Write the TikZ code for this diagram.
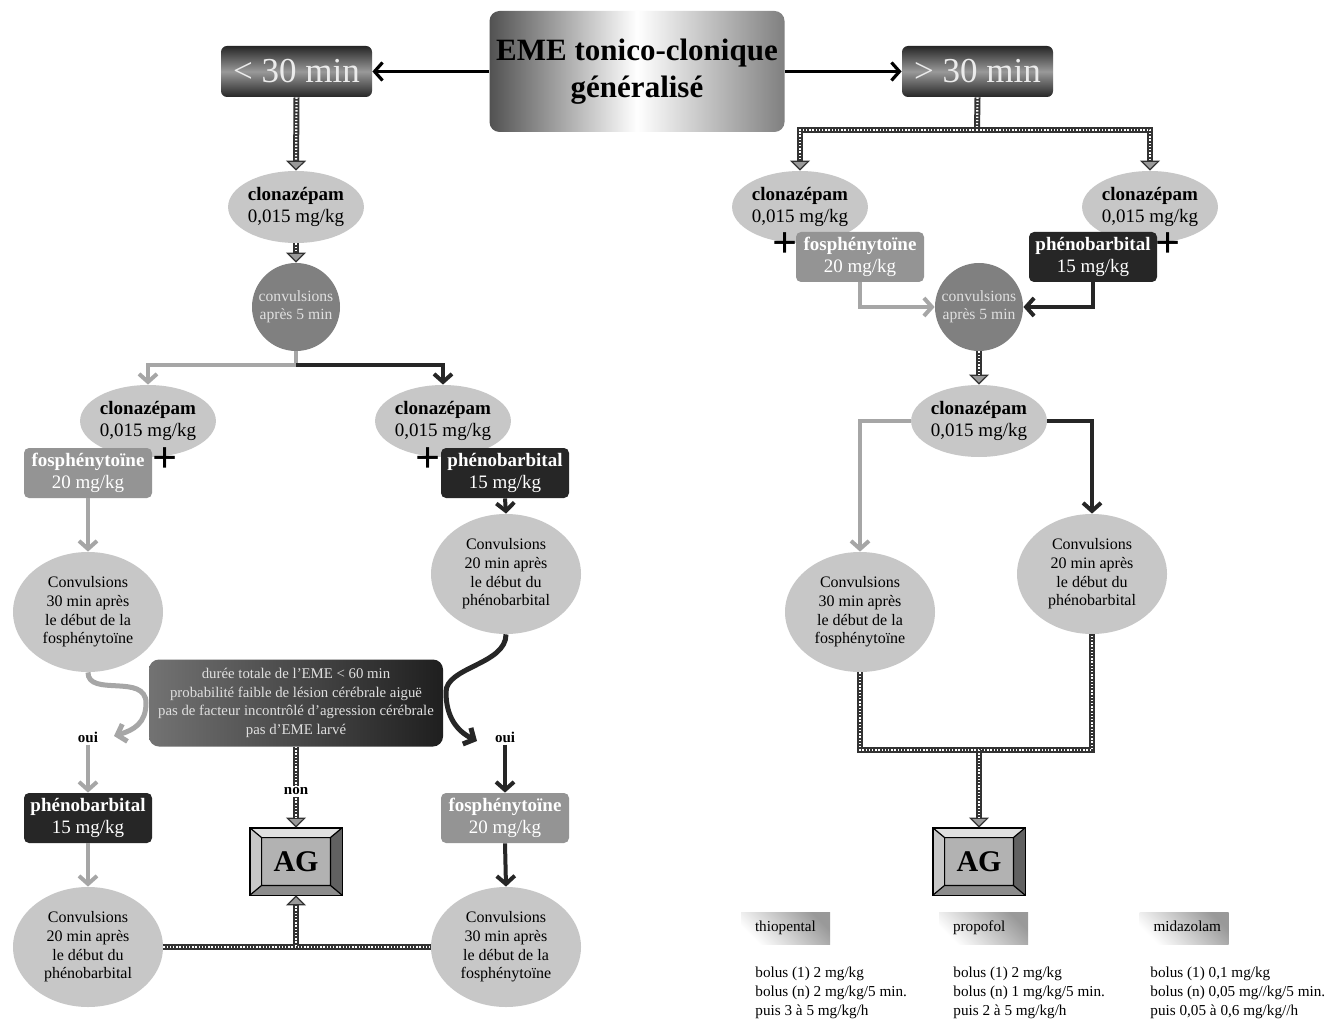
\documentclass[tikz,border=0pt]{standalone}
\usepackage{fontspec}
\setmainfont{Liberation Serif}
\usetikzlibrary{arrows.meta,shapes.geometric}

\newcommand{\txttitle}{\fontsize{15.5}{18.5}\selectfont\bfseries}
\newcommand{\txttime}{\fontsize{17.5}{20}\selectfont}
\newcommand{\txtdrug}{\fontsize{9.5}{11.2}\selectfont}
\newcommand{\txtconv}{\fontsize{8}{9.3}\selectfont}
\newcommand{\txtcirc}{\fontsize{7.8}{9}\selectfont}
\newcommand{\txtcrit}{\fontsize{7.4}{9.2}\selectfont}
\newcommand{\txtleg}{\fontsize{7.6}{9.5}\selectfont}
\newcommand{\txtyn}{\fontsize{7.5}{9}\selectfont\bfseries}
\newcommand{\txtag}{\fontsize{15}{15}\selectfont\bfseries}

% bevelled frame round an AG node
\newcommand{\agbevel}[1]{%
  \coordinate (#1nw) at ([shift={(6pt,-5pt)}]#1.north west);
  \coordinate (#1ne) at ([shift={(-6pt,-5pt)}]#1.north east);
  \coordinate (#1sw) at ([shift={(6pt,5pt)}]#1.south west);
  \coordinate (#1se) at ([shift={(-6pt,5pt)}]#1.south east);
  \fill[black!12] (#1.north west) -- (#1.north east) -- (#1ne) -- (#1nw) -- cycle;
  \fill[black!22] (#1.north west) -- (#1nw) -- (#1sw) -- (#1.south west) -- cycle;
  \fill[black!62] (#1.north east) -- (#1ne) -- (#1se) -- (#1.south east) -- cycle;
  \fill[black!45] (#1.south west) -- (#1sw) -- (#1se) -- (#1.south east) -- cycle;
  \draw[line width=.6pt] (#1nw) rectangle (#1se)
    (#1.north west) -- (#1nw) (#1.north east) -- (#1ne)
    (#1.south west) -- (#1sw) (#1.south east) -- (#1se);
  \draw[line width=.9pt] (#1.north west) rectangle (#1.south east);
}

\begin{document}
\begin{tikzpicture}[x=0.5pt,y=-0.5pt,
  cloz/.style={ellipse, fill=black!22, minimum width=63pt, minimum height=36pt, inner sep=0, align=center, font=\txtdrug},
  convbig/.style={ellipse, fill=black!22, minimum width=75pt, minimum height=60pt, inner sep=0, align=center, font=\txtconv},
  convsml/.style={circle, fill=black!50, minimum size=44pt, inner sep=0, align=center, text=black!12, font=\txtcirc},
  drugbox/.style={rectangle, rounded corners=2.5pt, minimum width=64pt, minimum height=25pt, inner sep=1pt, text=white, align=center, font=\txtdrug},
  fosbox/.style={drugbox, fill=black!42},
  phebox/.style={drugbox, fill=black!85},
  timebox/.style={rectangle, rounded corners=3pt, minimum width=75.5pt, minimum height=25.5pt, top color=black!85, bottom color=black!85, middle color=black!40, text=black!8, font=\txttime},
  plus/.style={inner sep=0, font=\fontsize{22}{22}\selectfont\bfseries},
  agbox/.style={rectangle, minimum width=46pt, minimum height=33.5pt, fill=black!30, font=\txtag},
  legbox/.style={rectangle, minimum height=16pt, text width=30.5pt, text height=5.5pt, text depth=1.6pt, align=left, inner xsep=7pt, top color=black!40, bottom color=white, shading angle=-45, font=\txtleg},
  legtxt/.style={anchor=north west, inner sep=0, align=left, font=\txtleg},
  yn/.style={inner sep=1pt, font=\txtyn},
  blkline/.style={draw=black, line width=1.6pt, -{Straight Barb[length=4pt,width=9pt]}},
  lgtline/.style={draw=black!35, line width=2pt, -{Straight Barb[length=4pt,width=9pt]}},
  drkline/.style={draw=black!85, line width=2pt, -{Straight Barb[length=4pt,width=9pt]}},
  hatch/.style={draw=black!80, line width=3pt, postaction={draw=white, -, line width=1.1pt, dash pattern=on 0.7pt off 0.9pt}},
  hatcharrow/.style={draw=black!80, line width=3pt, -{Triangle[length=5pt,width=10pt,fill=black!40,line width=0.6pt]},
    postaction={draw=white, -, shorten >=5pt, line width=1.1pt, dash pattern=on 0.7pt off 0.9pt}}]

\fill[white] (0,0) rectangle (1337,1021);
\useasboundingbox (0,0) rectangle (1337,1021);

% top
\node[rectangle, rounded corners=5pt, minimum width=147.5pt, minimum height=60.5pt, left color=black!68, right color=black!50, middle color=white, align=center, font=\txttitle] (eme) at (637,71.5) {EME tonico-clonique\\g\'en\'eralis\'e};
\node[timebox] (lt30) at (296.5,71.5) {< 30 min};
\node[timebox] (gt30) at (977.5,71.5) {> 30 min};
\draw[blkline] (eme.west) -- (lt30.east);
\draw[blkline] (eme.east) -- (gt30.west);

% left side: < 30 min
\node[cloz] (clo1) at (296,207) {\textbf{clonazépam}\\0,015 mg/kg};
\node[convsml] (conv1) at (296,307) {convulsions\\après 5 min};
\node[cloz] (clo2) at (148,421) {\textbf{clonazépam}\\0,015 mg/kg};
\node[cloz] (clo3) at (443,421) {\textbf{clonazépam}\\0,015 mg/kg};
\node[fosbox] (fos1) at (88,473) {\textbf{fosphénytoïne}\\20 mg/kg};
\node[phebox] (phe1) at (505,473) {\textbf{phénobarbital}\\15 mg/kg};
\node[plus] (plus1) at (165,460) {+};
\node[plus] (plus2) at (428,460) {+};
\node[convbig] (c30a) at (88,612) {Convulsions\\30 min après\\le début de la\\fosphénytoïne};
\node[convbig] (c20a) at (506,574) {Convulsions\\20 min après\\le début du\\phénobarbital};
\node[rectangle, rounded corners=5pt, minimum width=147pt, minimum height=43.5pt, inner sep=1pt, left color=black!55, right color=black!88, text=black!12, align=center, font=\txtcrit] (crit) at (296,703) {durée totale de l’EME < 60 min\\probabilité faible de lésion cérébrale aiguë\\pas de facteur incontrôlé d’agression cérébrale\\pas d’EME larvé};
\node[yn] (oui1) at (88,737) {oui};
\node[yn] (oui2) at (505,737) {oui};
\node[phebox] (phe2) at (88,818) {\textbf{phénobarbital}\\15 mg/kg};
\node[fosbox] (fos2) at (505,818) {\textbf{fosphénytoïne}\\20 mg/kg};
\node[agbox] (agL) at (296,861.5) {AG};
\agbevel{agL}
\node[convbig] (c20b) at (88,947) {Convulsions\\20 min après\\le début du\\phénobarbital};
\node[convbig] (c30b) at (506,947) {Convulsions\\30 min après\\le début de la\\fosphénytoïne};

\coordinate (br1) at (296,365);
\coordinate (t1) at (114,736);
\coordinate (t2) at (477,741);
\coordinate (jL) at (296,946);
\draw[hatcharrow] (lt30.south) -- (clo1.north);
\draw[hatcharrow] (clo1.south) -- (conv1.north);
\draw[lgtline] (conv1.south) -- (br1) -| (clo2.north);
\draw[drkline] (br1) -| (clo3.north);
\draw[lgtline] (fos1.south) -- (c30a.north);
\draw[drkline] (phe1.south) -- (c20a.north);
\draw[lgtline, line width=2.5pt] (c30a.south) .. controls +(0,25) and +(0,-30) .. (146,703) .. controls +(0,20) and +(20,-6) .. (t1);
\draw[drkline, line width=2.5pt] (c20a.south) .. controls +(0,30) and +(0,-25) .. (446,692) .. controls +(0,25) and +(-20,-10) .. (t2);
\draw[lgtline] (oui1.south) -- (phe2.north);
\draw[drkline] (oui2.south) -- (fos2.north);
\draw[lgtline] (phe2.south) -- (c20b.north);
\draw[drkline] (fos2.south) -- (c30b.north);
\draw[hatcharrow] (crit.south) -- node[pos=0.55, yn, fill=white] (non) {non} (agL.north);
\draw[hatch] (c20b.east) -- (c30b.west);
\draw[hatcharrow] (jL) -- (agL.south);

% right side: > 30 min
\node[cloz] (cloA) at (800,207) {\textbf{clonazépam}\\0,015 mg/kg};
\node[cloz] (cloB) at (1150,207) {\textbf{clonazépam}\\0,015 mg/kg};
\node[fosbox] (fosA) at (860,257) {\textbf{fosphénytoïne}\\20 mg/kg};
\node[phebox] (pheB) at (1093,257) {\textbf{phénobarbital}\\15 mg/kg};
\node[plus] (plusA) at (785,245) {+};
\node[plus] (plusB) at (1168,245) {+};
\node[convsml] (conv2) at (979,307) {convulsions\\après 5 min};
\node[cloz] (clo4) at (979,421) {\textbf{clonazépam}\\0,015 mg/kg};
\node[convbig] (c30c) at (860,612) {Convulsions\\30 min après\\le début de la\\fosphénytoïne};
\node[convbig] (c20c) at (1092,574) {Convulsions\\20 min après\\le début du\\phénobarbital};
\node[agbox] (agR) at (979,861.5) {AG};
\agbevel{agR}

\coordinate (brR) at (977,130);
\coordinate (jR) at (979,750);
\draw[hatch] (gt30.south) -- (brR);
\draw[hatcharrow] (brR) -| (cloA.north);
\draw[hatcharrow] (brR) -| (cloB.north);
\draw[lgtline] (fosA.south) |- (conv2.west);
\draw[drkline] (pheB.south) |- (conv2.east);
\draw[hatcharrow] (conv2.south) -- (clo4.north);
\draw[lgtline] (clo4.west) -| (c30c.north);
\draw[drkline] (clo4.east) -| (c20c.north);
\draw[hatch] (c30c.south) |- (jR) -| (c20c.south);
\draw[hatcharrow] (jR) -- (agR.north);

% legend
\node[legbox] (leg1) at (785.5,928) {thiopental};
\node[legbox] (leg2) at (983.5,928) {propofol};
\node[legbox] (leg3) at (1184,928) {midazolam};
\node[legtxt] (dose1) at (755,967) {bolus (1) 2 mg/kg\\bolus (n) 2 mg/kg/5 min.\\puis 3 à 5 mg/kg/h};
\node[legtxt] (dose2) at (953,967) {bolus (1) 2 mg/kg\\bolus (n) 1 mg/kg/5 min.\\puis 2 à 5 mg/kg/h};
\node[legtxt] (dose3) at (1150,967) {bolus (1) 0,1 mg/kg\\bolus (n) 0,05 mg//kg/5 min.\\puis 0,05 à 0,6 mg/kg//h};

\end{tikzpicture}
\end{document}
